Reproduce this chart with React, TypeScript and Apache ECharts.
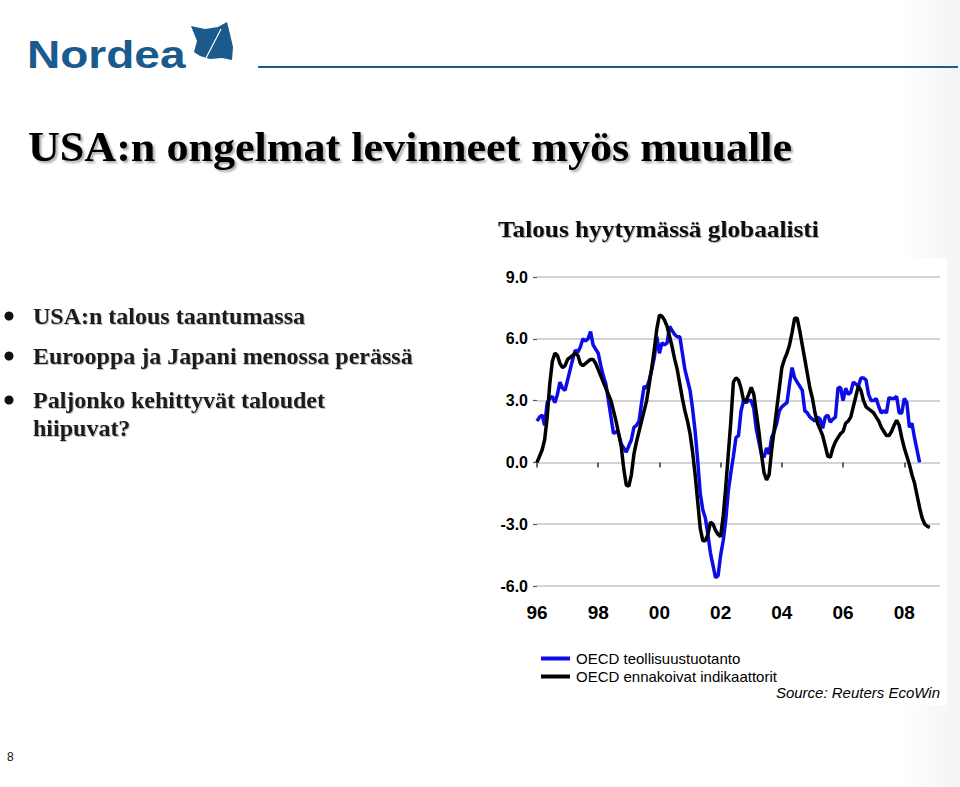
import React, { useEffect, useRef } from "react";
import * as echarts from "echarts";

// Monthly categories Jan 1996 .. Mar 2009
const startYear = 1996;
const monthCount = 159;
const categories: string[] = Array.from({ length: monthCount }, (_, i) => {
  const y = startYear + Math.floor(i / 12);
  const m = (i % 12) + 1;
  return `${y}-${m < 10 ? "0" + m : m}`;
});

// OECD industrial production (blue), Jan 1996 .. Jul 2008
const industrialProduction: number[] = [
  // 1996
  2.0, 2.2, 2.3, 1.8, 2.9, 3.1, 3.2, 2.9, 3.3, 3.9, 3.6, 3.5,
  // 1997
  4.0, 4.5, 5.0, 5.45, 5.35, 5.6, 6.0, 5.9, 6.0, 6.35, 5.7, 5.5,
  // 1998
  5.3, 4.7, 4.2, 3.8, 3.0, 2.2, 1.4, 1.5, 1.4, 0.9, 0.7, 0.5,
  // 1999
  0.8, 1.1, 1.7, 1.8, 2.0, 2.9, 3.7, 3.6, 4.0, 4.5, 5.1, 6.1,
  // 2000
  5.3, 5.8, 5.7, 5.8, 6.6, 6.4, 6.2, 6.1, 6.1, 5.3, 4.5, 4.0,
  // 2001
  3.5, 2.6, 1.5, 0.1, -1.5, -2.3, -2.7, -3.5, -4.4, -5.0, -5.6, -5.5,
  // 2002
  -4.5, -3.8, -2.8, -1.4, -0.5, 0.3, 1.2, 1.3, 2.5, 3.0, 2.9, 3.0,
  // 2003
  3.0, 2.6, 1.6, 1.0, 0.4, 0.25, 0.7, 0.4, 1.2, 1.5, 1.9, 2.5,
  // 2004
  2.7, 2.8, 2.9, 3.8, 4.6, 4.1, 3.9, 3.7, 3.5, 2.5, 2.4, 2.2,
  // 2005
  2.1, 2.0, 2.2, 2.1, 1.65, 2.2, 2.3, 1.95, 2.1, 2.2, 3.6, 3.65,
  // 2006
  3.0, 3.6, 3.3, 3.4, 3.9, 3.8, 3.7, 4.1, 4.1, 4.0, 3.3, 3.0,
  // 2007
  3.0, 3.1, 2.7, 2.4, 2.5, 2.4, 3.15, 3.1, 3.1, 3.2, 2.4, 2.4,
  // 2008
  3.1, 2.9, 1.7, 1.9, 1.2, 0.6, 0.0,
];

// OECD leading indicators (black), Jan 1996 .. Nov 2008
const leadingIndicators: number[] = [
  // 1996
  0.0, 0.3, 0.6, 1.1, 2.2, 3.8, 4.9, 5.3, 5.2, 4.8, 4.6, 4.7,
  // 1997
  5.0, 5.1, 5.2, 5.3, 5.2, 4.8, 4.7, 4.8, 4.9, 5.0, 5.0, 4.8,
  // 1998
  4.5, 4.2, 3.9, 3.6, 3.3, 3.0, 2.5, 2.0, 1.4, 0.8, -0.3, -1.1,
  // 1999
  -1.15, -0.6, 0.4, 1.0, 1.5, 2.0, 2.5, 3.0, 3.8, 4.6, 5.5, 6.5,
  // 2000
  7.15, 7.1, 6.9, 6.6, 6.1, 5.6, 5.0, 4.5, 3.8, 3.1, 2.5, 2.0,
  // 2001
  1.4, 0.5, -0.6, -1.9, -3.2, -3.8, -3.8, -3.5, -2.9, -3.0, -3.3, -3.5,
  // 2002
  -3.6, -2.6, -1.2, 0.4, 2.0, 3.9, 4.1, 4.0, 3.6, 3.0, 3.0, 3.3,
  // 2003
  3.65, 3.3, 2.4, 1.5, 0.4, -0.5, -0.85, -0.6, 0.6, 1.6, 2.6, 3.6,
  // 2004
  4.6, 5.0, 5.3, 5.7, 6.3, 7.0, 7.0, 6.4, 5.7, 5.0, 4.3, 3.6,
  // 2005
  3.1, 2.4, 1.9, 1.6, 1.3, 0.8, 0.3, 0.25, 0.7, 1.0, 1.2, 1.4,
  // 2006
  1.5, 1.9, 2.0, 2.2, 2.7, 3.2, 3.7, 3.5, 3.0, 2.7, 2.6, 2.5,
  // 2007
  2.4, 2.2, 2.0, 1.7, 1.5, 1.3, 1.3, 1.5, 1.8, 2.05, 1.8, 1.2,
  // 2008
  0.7, 0.3, -0.1, -0.6, -1.0, -1.6, -2.2, -2.7, -3.0, -3.1, -3.15,
];

const seriesNames = ["OECD teollisuustuotanto", "OECD ennakoivat indikaattorit"];
const seriesColors = ["#0c0ce6", "#000000"];

const yMin = -6;
const yMax = 9;
const yInterval = 3;

const pageTitle = "USA:n ongelmat levinneet myös muualle";
const chartTitle = "Talous hyytymässä globaalisti";
const bullets = [
  "USA:n talous taantumassa",
  "Eurooppa ja Japani menossa perässä",
  "Paljonko kehittyvät taloudet",
];
const bulletContinuation = "hiipuvat?";
const sourceText = "Source: Reuters EcoWin";
const logoText = "Nordea";
const pageNumber = "8";

export default function App() {
  const ref = useRef<HTMLDivElement>(null);

  useEffect(() => {
    if (!ref.current) return;
    const chart = echarts.init(ref.current, undefined, { renderer: "svg" });
    const serif = "'Liberation Serif', 'DejaVu Serif', serif";
    const sans = "'Liberation Sans', Arial, sans-serif";
    const logoBlue = "#1b5a8c";

    const bulletYs = [316, 356, 400];
    const bulletStyle = {
      font: `bold 24px ${serif}`,
      fill: "#1a1a1a",
      textVerticalAlign: "middle",
      textShadowColor: "rgba(0,0,0,0.25)",
      textShadowBlur: 1,
      textShadowOffsetX: 1,
      textShadowOffsetY: 1,
    };

    const graphic: any[] = [
      // faint background swoosh
      {
        type: "rect",
        shape: { x: 900, y: 0, width: 60, height: 787 },
        style: {
          fill: new echarts.graphic.LinearGradient(0, 0, 1, 0, [
            { offset: 0, color: "rgba(240,240,240,0)" },
            { offset: 1, color: "rgba(238,238,238,0.7)" },
          ]),
        },
        z: -10,
        silent: true,
      },
      {
        type: "rect",
        shape: { x: 487, y: 258, width: 460, height: 447 },
        style: { fill: "#ffffff" },
        z: -9,
        silent: true,
      },
      // logo
      {
        type: "text",
        x: 27,
        y: 54,
        scaleX: 1.18,
        style: {
          text: logoText,
          font: `bold 39px ${sans}`,
          fill: logoBlue,
          textVerticalAlign: "middle",
        },
      },
      {
        type: "polygon",
        shape: {
          points: [
            [191, 26], [205, 29], [218, 27], [227, 22], [230, 34], [233, 47],
            [232, 60], [222, 58], [210, 59], [200, 56], [194, 52], [197, 41],
          ],
        },
        style: { fill: logoBlue },
      },
      {
        type: "line",
        shape: { x1: 221, y1: 29, x2: 206, y2: 58 },
        style: { stroke: "#ffffff", lineWidth: 1.2 },
      },
      {
        type: "line",
        shape: { x1: 258, y1: 67, x2: 958, y2: 67 },
        style: { stroke: logoBlue, lineWidth: 2 },
      },
      // title
      {
        type: "text",
        x: 28,
        y: 147,
        scaleX: 1.05,
        style: {
          text: pageTitle,
          font: `bold 42px ${serif}`,
          fill: "#000000",
          textVerticalAlign: "middle",
          textShadowColor: "rgba(0,0,0,0.35)",
          textShadowBlur: 2,
          textShadowOffsetX: 2,
          textShadowOffsetY: 2,
        },
      },
      // chart title
      {
        type: "text",
        x: 498,
        y: 229,
        scaleX: 1.1,
        style: {
          text: chartTitle,
          font: `bold 23px ${serif}`,
          fill: "#111111",
          textVerticalAlign: "middle",
          textShadowColor: "rgba(0,0,0,0.3)",
          textShadowBlur: 1,
          textShadowOffsetX: 1,
          textShadowOffsetY: 1,
        },
      },
      // bullets
      ...bullets.map((b, i) => ({
        type: "text",
        x: 33,
        y: bulletYs[i],
        style: { text: b, ...bulletStyle },
      })),
      ...bulletYs.map((y) => ({
        type: "circle",
        shape: { cx: 9, cy: y, r: 4.5 },
        style: { fill: "#111111" },
      })),
      {
        type: "text",
        x: 33,
        y: 428,
        style: { text: bulletContinuation, ...bulletStyle },
      },
      // source
      {
        type: "text",
        x: 940,
        y: 692,
        style: {
          text: sourceText,
          font: `italic 15px ${sans}`,
          fill: "#000000",
          textAlign: "right",
          textVerticalAlign: "middle",
        },
      },
      // page number
      {
        type: "text",
        x: 7,
        y: 757,
        style: {
          text: pageNumber,
          font: `12px ${sans}`,
          fill: "#111111",
          textVerticalAlign: "middle",
        },
      },
    ];

    chart.setOption({
      animation: false,
      backgroundColor: "#ffffff",
      graphic,
      legend: {
        orient: "vertical",
        left: 536,
        top: 646,
        itemWidth: 29,
        itemHeight: 4,
        itemGap: 3,
        icon: "rect",
        textStyle: { fontFamily: sans, fontSize: 15, color: "#000000", padding: [0, 0, 0, 1] },
        data: seriesNames,
      },
      grid: { left: 537, right: 20, top: 277, bottom: 201, containLabel: false },
      xAxis: {
        type: "category",
        data: categories,
        boundaryGap: false,
        offset: 6,
        axisLine: { show: false },
        axisTick: {
          show: true,
          length: 5,
          interval: (idx: number) => idx % 24 === 0,
          lineStyle: { color: "#333333", width: 1.5 },
        },
        axisLabel: {
          interval: (idx: number) => idx % 24 === 0,
          formatter: (v: string) => v.slice(2, 4),
          fontFamily: sans,
          fontWeight: "bold",
          fontSize: 19,
          color: "#000000",
          margin: 11,
        },
        splitLine: { show: false },
      },
      yAxis: {
        type: "value",
        min: yMin,
        max: yMax,
        interval: yInterval,
        axisLine: { show: false },
        axisTick: { show: true, length: 4, lineStyle: { color: "#555555", width: 1.2 } },
        axisLabel: {
          formatter: (v: number) => v.toFixed(1),
          fontFamily: sans,
          fontWeight: "bold",
          fontSize: 16,
          color: "#000000",
          margin: 9,
        },
        splitLine: { show: true, lineStyle: { color: "#c4c4c4", width: 1.5 } },
      },
      series: [
        {
          name: seriesNames[0],
          type: "line",
          data: industrialProduction,
          showSymbol: false,
          symbol: "none",
          lineStyle: { color: seriesColors[0], width: 3.5 },
          itemStyle: { color: seriesColors[0] },
          z: 2,
        },
        {
          name: seriesNames[1],
          type: "line",
          data: leadingIndicators,
          showSymbol: false,
          symbol: "none",
          lineStyle: { color: seriesColors[1], width: 3.5 },
          itemStyle: { color: seriesColors[1] },
          z: 3,
        },
      ],
    });

    return () => chart.dispose();
  }, []);

  return (
    <div
      ref={ref}
      style={{ position: "fixed", left: 0, top: 0, width: 960, height: 787 }}
    />
  );
}
